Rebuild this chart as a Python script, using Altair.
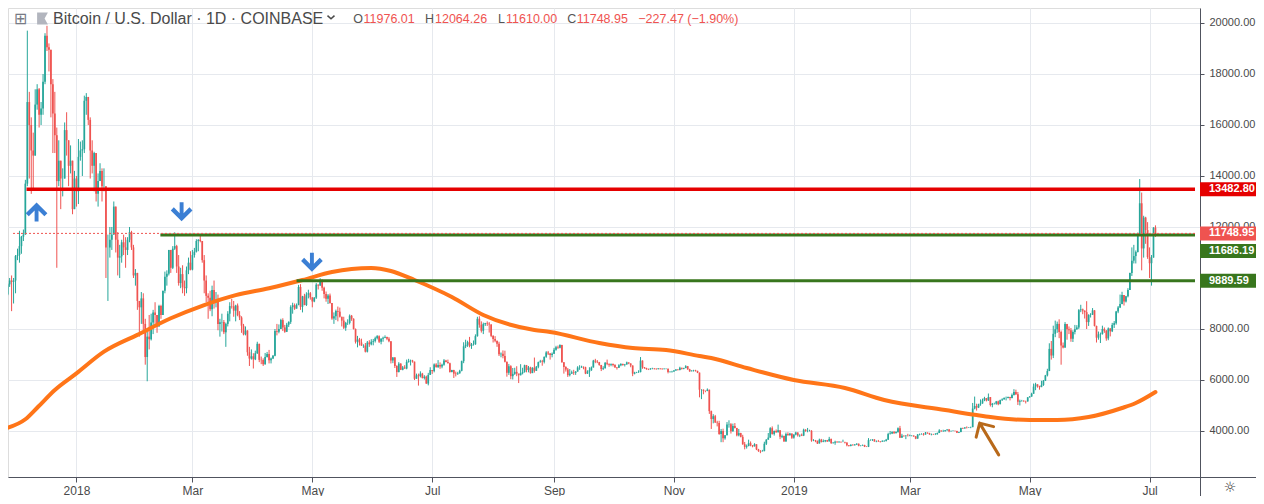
import json
import altair as alt
import pandas as pd

# ---------------- daily candles (Coinbase BTC/USD) ----------------
FIRST_OPEN = 9250

close_2017_11 = [9350, 9750, 9900, 9850, 9900]
high_2017_11 = [9500, 9800, 10000, 10100, 10000]
low_2017_11 = [9050, 9320, 9650, 8700, 9000]

close_2017_12 = [10860, 10900, 11250, 11620, 11700, 13700, 16900, 16000, 15000, 14800, 16800, 17400, 16400, 16650, 17700, 19500, 19050, 18950, 17600, 16450, 15600, 13800, 14600, 13900, 13900, 15800, 15400, 14400, 14600, 12700, 13900]
high_2017_12 = [10900, 11150, 11850, 11650, 11900, 13850, 19700, 17300, 16300, 15700, 17400, 17600, 17450, 16900, 18000, 19600, 19890, 19200, 18900, 17800, 17300, 15900, 15400, 14600, 14300, 16100, 16500, 15400, 15200, 14600, 14200]
low_2017_12 = [9400, 10700, 10600, 10950, 11450, 11700, 13600, 13900, 13300, 13500, 14800, 16600, 15900, 16000, 16400, 17600, 18900, 18100, 16300, 14900, 14900, 10400, 13600, 12700, 13200, 13900, 14800, 13600, 14100, 12500, 12700]

close_2018_01 = [13400, 14750, 15000, 15050, 16950, 17100, 16200, 15000, 14400, 14900, 13300, 13800, 14200, 13600, 13600, 11200, 11200, 11500, 11700, 12800, 11500, 10800, 10850, 11400, 11200, 11100, 11500, 11800, 11200, 10100, 10200]
high_2018_01 = [14000, 15450, 15350, 15400, 17150, 17250, 17100, 16300, 15400, 14950, 14900, 14100, 14500, 14300, 14300, 13600, 11700, 12000, 12000, 13000, 12800, 11800, 11300, 11500, 11700, 11600, 11600, 12000, 11850, 11300, 10350]
low_2018_01 = [12800, 12900, 14600, 14000, 14900, 16400, 16000, 13900, 14100, 13400, 13000, 12800, 13800, 13000, 13400, 10000, 9100, 10800, 11100, 11700, 11000, 10100, 10000, 10600, 10900, 10400, 10900, 11400, 11100, 10000, 9700]

close_2018_02 = [9100, 8850, 9200, 8200, 6900, 7700, 7600, 8250, 8650, 8550, 8100, 8900, 8550, 9500, 10050, 10170, 11100, 10400, 11150, 11250, 10450, 9800, 10150, 9650, 9600, 10300, 10600, 10330]
high_2018_02 = [10200, 9100, 9450, 9400, 8400, 7900, 8550, 8600, 8750, 9050, 8550, 8950, 8950, 9500, 10250, 10300, 11100, 11100, 11250, 11790, 11300, 10900, 10400, 10500, 9900, 10450, 10800, 11050]
low_2018_02 = [8750, 7700, 8200, 7900, 6600, 5950, 7200, 7550, 7800, 8200, 7850, 8100, 8400, 8550, 9400, 9700, 10100, 10200, 10350, 11100, 10200, 9700, 9600, 9400, 9300, 9400, 10150, 10300]

close_2018_03 = [10900, 11030, 11450, 11500, 11450, 10700, 9900, 9300, 9230, 8770, 9530, 9140, 9150, 8200, 8260, 8270, 7870, 8200, 8600, 8900, 8890, 8720, 8920, 8540, 8450, 8130, 7790, 7940, 7090, 6840, 6930]
high_2018_03 = [11100, 11180, 11520, 11520, 11700, 11450, 10900, 10100, 9400, 9500, 9700, 9900, 9450, 9350, 8400, 8600, 8350, 8250, 8700, 9050, 9180, 9100, 8950, 9000, 8700, 8500, 8200, 8100, 7950, 7300, 7200]
low_2018_03 = [10300, 10800, 11000, 11050, 11400, 10600, 9400, 9050, 8400, 8700, 8500, 8800, 8850, 7950, 7700, 7900, 7800, 7300, 8100, 8300, 8800, 8480, 8300, 8500, 8350, 7850, 7750, 7750, 6950, 6550, 6800]

close_2018_04 = [6810, 7050, 7420, 6790, 6780, 6620, 6900, 7020, 6770, 6840, 6950, 7920, 7890, 8000, 8350, 8060, 7890, 8170, 8280, 8860, 8930, 8800, 8940, 9650, 8870, 9280, 8940, 9350, 9400, 9240]
high_2018_04 = [7050, 7150, 7500, 7420, 6920, 6850, 7060, 7100, 7180, 6880, 6980, 8000, 8200, 8180, 8400, 8420, 8160, 8240, 8300, 8930, 9030, 9000, 9000, 9730, 9760, 9300, 9380, 9440, 9540, 9450]
low_2018_04 = [6450, 6780, 7020, 6700, 6620, 6550, 6600, 6880, 6650, 6650, 6820, 6930, 7750, 7830, 8000, 7920, 7850, 7880, 8080, 8200, 8600, 8750, 8800, 8930, 8750, 8650, 8930, 8900, 9200, 9150]

close_2018_05 = [9080, 9230, 9740, 9700, 9860, 9620, 9370, 9190, 9310, 9020, 8410, 8500, 8710, 8680, 8480, 8330, 8050, 8240, 8240, 8520, 8400, 8000, 7500, 7590, 7470, 7350, 7350, 7110, 7470, 7400, 7500]
high_2018_05 = [9250, 9250, 9800, 9750, 9990, 9950, 9660, 9470, 9370, 9390, 9020, 8650, 8760, 8880, 8840, 8480, 8480, 8280, 8380, 8570, 8550, 8420, 8020, 7730, 7650, 7620, 7400, 7450, 7530, 7560, 7600]
low_2018_05 = [8850, 9050, 9180, 9550, 9700, 9500, 9200, 9070, 8980, 8990, 8360, 8200, 8350, 8300, 8450, 8100, 8000, 7930, 8160, 8180, 8320, 7980, 7430, 7280, 7350, 7340, 7260, 7080, 7080, 7300, 7360]

close_2018_06 = [7530, 7640, 7720, 7500, 7620, 7660, 7690, 7620, 7520, 6760, 6880, 6550, 6310, 6640, 6400, 6490, 6450, 6710, 6740, 6760, 6720, 6050, 6180, 6150, 6250, 6080, 6130, 5860, 6200, 6390]
high_2018_06 = [7610, 7700, 7760, 7750, 7640, 7700, 7750, 7700, 7680, 7520, 6900, 6900, 6580, 6700, 6660, 6550, 6580, 6800, 6830, 6800, 6790, 6720, 6250, 6250, 6340, 6280, 6190, 6170, 6280, 6500]
low_2018_06 = [7360, 7470, 7590, 7450, 7400, 7500, 7640, 7560, 7480, 6650, 6660, 6470, 6120, 6300, 6390, 6380, 6440, 6420, 6680, 6570, 6680, 6000, 6050, 5780, 6100, 6060, 6020, 5850, 5790, 6200]

close_2018_07 = [6350, 6610, 6510, 6590, 6530, 6600, 6760, 6710, 6660, 6310, 6390, 6250, 6230, 6260, 6360, 6740, 7320, 7380, 7480, 7330, 7400, 7400, 7720, 8400, 8170, 7930, 8190, 8230, 8210, 8180, 7730]
high_2018_07 = [6390, 6650, 6660, 6780, 6690, 6640, 6820, 6790, 6800, 6680, 6400, 6400, 6330, 6320, 6400, 6760, 7480, 7580, 7540, 7690, 7450, 7550, 7790, 8480, 8500, 8300, 8250, 8240, 8300, 8270, 8180]
low_2018_07 = [6240, 6300, 6480, 6470, 6440, 6460, 6560, 6690, 6650, 6290, 6300, 6080, 6140, 6200, 6250, 6340, 6660, 7250, 7300, 7280, 7220, 7350, 7380, 7700, 8050, 7860, 7800, 8120, 8120, 7860, 7680]

close_2018_08 = [7610, 7540, 7420, 7010, 7030, 6940, 6720, 6280, 6540, 6150, 6240, 6320, 6250, 6190, 6270, 6310, 6580, 6390, 6490, 6270, 6480, 6360, 6520, 6700, 6730, 6710, 6910, 7080, 7040, 6980, 7030]
high_2018_08 = [7760, 7720, 7540, 7500, 7080, 7160, 7150, 6720, 6630, 6580, 6470, 6480, 6540, 6250, 6620, 6480, 6600, 6590, 6550, 6520, 6500, 6880, 6550, 6720, 6790, 6790, 6920, 7130, 7140, 7060, 7080]
low_2018_08 = [7470, 7480, 7300, 6940, 6890, 6850, 6690, 6130, 6200, 6030, 6020, 6200, 6150, 5880, 6180, 6220, 6290, 6300, 6300, 6250, 6270, 6290, 6360, 6460, 6680, 6560, 6650, 6870, 6980, 6800, 6890]

close_2018_09 = [7190, 7280, 7260, 7370, 6700, 6510, 6410, 6190, 6250, 6300, 6280, 6330, 6490, 6490, 6520, 6500, 6250, 6330, 6380, 6490, 6760, 6720, 6700, 6590, 6430, 6460, 6680, 6640, 6600, 6630]
high_2018_09 = [7260, 7340, 7350, 7400, 7380, 6700, 6540, 6470, 6430, 6370, 6400, 6350, 6540, 6580, 6560, 6530, 6520, 6380, 6500, 6530, 6790, 6830, 6780, 6710, 6590, 6540, 6700, 6800, 6640, 6650]
low_2018_09 = [7020, 7150, 7220, 7240, 6680, 6250, 6330, 6120, 6140, 6240, 6200, 6200, 6330, 6400, 6480, 6420, 6230, 6240, 6120, 6360, 6490, 6660, 6660, 6560, 6350, 6390, 6450, 6580, 6520, 6540]

close_2018_10 = [6590, 6500, 6480, 6580, 6630, 6590, 6610, 6690, 6650, 6570, 6250, 6290, 6300, 6310, 6760, 6500, 6470, 6430, 6420, 6440, 6450, 6440, 6430, 6450, 6440, 6430, 6440, 6440, 6310, 6320, 6330]
high_2018_10 = [6650, 6620, 6510, 6620, 6660, 6640, 6630, 6720, 6690, 6650, 6570, 6320, 6320, 6380, 6900, 6770, 6510, 6480, 6450, 6470, 6480, 6470, 6460, 6470, 6470, 6460, 6460, 6460, 6450, 6340, 6360]
low_2018_10 = [6530, 6470, 6410, 6470, 6540, 6560, 6530, 6600, 6620, 6500, 6150, 6220, 6270, 6280, 6300, 6440, 6440, 6400, 6390, 6400, 6420, 6410, 6400, 6410, 6410, 6400, 6410, 6420, 6260, 6290, 6290]

close_2018_11 = [6370, 6410, 6390, 6480, 6440, 6470, 6540, 6420, 6340, 6370, 6380, 6360, 6290, 5620, 5620, 5580, 5570, 5620, 4780, 4470, 4580, 4330, 4310, 3880, 4000, 3720, 3830, 4250, 4260, 3990]
high_2018_11 = [6390, 6430, 6420, 6520, 6480, 6480, 6580, 6550, 6440, 6380, 6400, 6400, 6360, 6290, 5640, 5630, 5580, 5670, 5620, 4800, 4660, 4630, 4400, 4400, 4080, 4090, 3840, 4350, 4420, 4310]
low_2018_11 = [6320, 6360, 6370, 6380, 6410, 6420, 6460, 6400, 6320, 6340, 6330, 6330, 6270, 5320, 5250, 5440, 5520, 5560, 4670, 4080, 4300, 4320, 4180, 3850, 3560, 3560, 3660, 3830, 4130, 3900]

close_2018_12 = [4200, 4120, 3830, 3920, 3770, 3480, 3380, 3410, 3520, 3440, 3400, 3480, 3280, 3220, 3200, 3220, 3500, 3660, 3740, 4110, 3880, 4000, 3950, 4030, 3770, 3800, 3590, 3880, 3830, 3900, 3740]
high_2018_12 = [4290, 4310, 4120, 4080, 3930, 3850, 3570, 3470, 3660, 3590, 3450, 3520, 3480, 3300, 3250, 3260, 3580, 3680, 3920, 4150, 4180, 4020, 4060, 4250, 4030, 3860, 3820, 3940, 3950, 3930, 3900]
low_2018_12 = [3970, 4100, 3790, 3790, 3750, 3460, 3280, 3310, 3400, 3400, 3360, 3390, 3250, 3180, 3130, 3200, 3200, 3450, 3660, 3730, 3860, 3820, 3930, 3940, 3680, 3720, 3580, 3580, 3820, 3820, 3690]

close_2019_01 = [3860, 3940, 3830, 3850, 3820, 4050, 4000, 4000, 4010, 3630, 3640, 3620, 3510, 3660, 3570, 3600, 3640, 3590, 3690, 3530, 3540, 3580, 3560, 3580, 3570, 3570, 3550, 3440, 3410, 3460, 3440]
high_2019_01 = [3870, 3970, 3950, 3860, 3900, 4090, 4070, 4120, 4050, 4030, 3680, 3650, 3620, 3700, 3690, 3670, 3650, 3650, 3770, 3700, 3570, 3620, 3600, 3600, 3580, 3660, 3580, 3550, 3450, 3480, 3480]
low_2019_01 = [3700, 3830, 3780, 3760, 3800, 3800, 3970, 3950, 3980, 3580, 3600, 3560, 3490, 3510, 3550, 3560, 3560, 3570, 3590, 3490, 3500, 3460, 3540, 3540, 3530, 3560, 3510, 3400, 3390, 3400, 3430]

close_2019_02 = [3470, 3500, 3420, 3430, 3450, 3390, 3380, 3640, 3650, 3670, 3590, 3600, 3590, 3570, 3590, 3610, 3660, 3880, 3900, 3960, 3910, 3960, 4110, 3740, 3810, 3800, 3810, 3800]
high_2019_02 = [3490, 3520, 3510, 3440, 3470, 3460, 3400, 3720, 3670, 3680, 3680, 3630, 3650, 3600, 3640, 3640, 3690, 3930, 4000, 3990, 4000, 3990, 4140, 4200, 3890, 3830, 3840, 3890]
low_2019_02 = [3430, 3450, 3400, 3400, 3420, 3370, 3370, 3370, 3620, 3610, 3580, 3560, 3570, 3550, 3570, 3590, 3590, 3650, 3860, 3880, 3890, 3910, 3930, 3730, 3740, 3770, 3680, 3790]

close_2019_03 = [3820, 3820, 3790, 3700, 3860, 3870, 3880, 3860, 3940, 3920, 3870, 3880, 3870, 3870, 3920, 4020, 3990, 3990, 4030, 4060, 3990, 4000, 4010, 4000, 3930, 3960, 4120, 4100, 4140, 4130, 4140]
high_2019_03 = [3860, 3840, 3830, 3800, 3880, 3900, 3910, 3920, 3960, 3940, 3930, 3900, 3890, 3920, 3940, 4070, 4020, 4050, 4040, 4070, 4080, 4020, 4020, 4010, 4010, 3970, 4130, 4130, 4150, 4180, 4150]
low_2019_03 = [3800, 3790, 3770, 3680, 3700, 3830, 3860, 3820, 3860, 3890, 3850, 3830, 3850, 3840, 3860, 3920, 3970, 3960, 3980, 4010, 3950, 3980, 3990, 3980, 3920, 3920, 3950, 4080, 4090, 4100, 4120]

close_2019_04 = [4150, 4880, 4980, 4920, 5050, 5080, 5200, 5290, 5200, 5330, 5020, 5070, 5070, 5160, 5050, 5210, 5240, 5290, 5290, 5330, 5290, 5410, 5530, 5440, 5150, 5180, 5180, 5170, 5160, 5320]
high_2019_04 = [4170, 5100, 5350, 5070, 5070, 5240, 5270, 5340, 5290, 5470, 5330, 5100, 5110, 5180, 5190, 5230, 5280, 5320, 5350, 5350, 5340, 5470, 5640, 5620, 5530, 5230, 5220, 5210, 5190, 5330]
low_2019_04 = [4110, 4150, 4850, 4800, 4900, 4990, 5070, 5170, 5160, 5180, 4960, 4930, 5040, 5030, 5010, 5050, 5180, 5240, 5200, 5280, 5200, 5280, 5390, 5410, 5020, 5000, 5150, 5140, 5080, 5150]

close_2019_05 = [5350, 5460, 5740, 5830, 5770, 5720, 5800, 5970, 6180, 6350, 7220, 6960, 7810, 7990, 8200, 7880, 7350, 7270, 8200, 7990, 7950, 7620, 7880, 7990, 8060, 8740, 8770, 8720, 8660, 8270, 8550]
high_2019_05 = [5370, 5500, 5860, 5890, 5830, 5770, 5970, 6000, 6200, 6440, 7440, 7530, 8130, 8330, 8290, 8380, 7940, 7470, 8270, 8200, 8100, 8040, 7950, 8160, 8150, 8780, 8950, 8800, 8730, 9090, 8580]
low_2019_05 = [5310, 5340, 5460, 5600, 5700, 5620, 5720, 5770, 5960, 6140, 6350, 6800, 6860, 7680, 7850, 7640, 6600, 7240, 7260, 7580, 7800, 7500, 7490, 7790, 7970, 8000, 8660, 8580, 8410, 8000, 8120]

close_2019_06 = [8560, 8730, 8120, 7660, 7790, 7800, 8000, 7930, 7630, 8020, 7910, 8160, 8230, 8690, 8840, 8980, 9330, 9080, 9280, 9530, 10200, 10680, 10860, 11020, 11750, 12930, 11160, 12370, 11880, 10820]
high_2019_06 = [8620, 8820, 8740, 8130, 7900, 7860, 8130, 8060, 7960, 8060, 8030, 8240, 8310, 8710, 8900, 9350, 9460, 9330, 9300, 9600, 10210, 11200, 11300, 11080, 11780, 13880, 13350, 12440, 12400, 12190]
low_2019_06 = [8450, 8550, 8100, 7470, 7580, 7450, 7780, 7850, 7540, 7560, 7710, 7880, 8040, 8170, 8620, 8820, 8970, 8920, 9040, 9240, 9530, 10080, 10570, 10570, 11000, 11700, 10300, 10800, 11340, 10750]

close_2019_07 = [10580, 10800, 11976.01, 11748.95]
high_2019_07 = [11200, 10900, 11990, 12064.26]
low_2019_07 = [10000, 9700, 10800, 11610.00]

MONTHS = [
    ("2017-11-26", close_2017_11, high_2017_11, low_2017_11),
    ("2017-12-01", close_2017_12, high_2017_12, low_2017_12),
    ("2018-01-01", close_2018_01, high_2018_01, low_2018_01),
    ("2018-02-01", close_2018_02, high_2018_02, low_2018_02),
    ("2018-03-01", close_2018_03, high_2018_03, low_2018_03),
    ("2018-04-01", close_2018_04, high_2018_04, low_2018_04),
    ("2018-05-01", close_2018_05, high_2018_05, low_2018_05),
    ("2018-06-01", close_2018_06, high_2018_06, low_2018_06),
    ("2018-07-01", close_2018_07, high_2018_07, low_2018_07),
    ("2018-08-01", close_2018_08, high_2018_08, low_2018_08),
    ("2018-09-01", close_2018_09, high_2018_09, low_2018_09),
    ("2018-10-01", close_2018_10, high_2018_10, low_2018_10),
    ("2018-11-01", close_2018_11, high_2018_11, low_2018_11),
    ("2018-12-01", close_2018_12, high_2018_12, low_2018_12),
    ("2019-01-01", close_2019_01, high_2019_01, low_2019_01),
    ("2019-02-01", close_2019_02, high_2019_02, low_2019_02),
    ("2019-03-01", close_2019_03, high_2019_03, low_2019_03),
    ("2019-04-01", close_2019_04, high_2019_04, low_2019_04),
    ("2019-05-01", close_2019_05, high_2019_05, low_2019_05),
    ("2019-06-01", close_2019_06, high_2019_06, low_2019_06),
    ("2019-07-01", close_2019_07, high_2019_07, low_2019_07),
]

# 200-day moving average (day index from 2018-01-01, price)
ma_day = [-36, -26, -19.5, -11, 0, 14, 31, 48, 65, 81, 98, 115, 130, 140, 150, 160, 172, 191, 207, 233,
          241, 266, 283, 300, 317, 323, 341, 365, 391, 411, 442, 458, 465, 485, 499, 515, 532, 539, 549]
ma_val = [4100, 4460, 4950, 5610, 6260, 7110, 7770, 8420, 8940, 9330, 9600, 9920, 10235, 10353, 10392, 10275,
          9922, 9255, 8549, 7961, 7882, 7451, 7255, 7176, 6941, 6863, 6471, 6000, 5686, 5216, 4824, 4627,
          4549, 4431, 4431, 4549, 4902, 5098, 5529]

# horizontal levels drawn on the chart
level_price = [13482.80, 11686.19, 9889.59]
level_start = [-25.4, 42.7, 112.0]
level_color = ["#e50000", "#38761d", "#38761d"]
level_width = [3.5, 3, 3]
CURRENT = 11748.95

# price tags on the right scale
tag_price = [13482.80, 11748.95, 11686.19, 9889.59]
tag_color = ["#e50000", "#ef5350", "#38761d", "#38761d"]
tag_shift = [0, 0, 1, 0]

# arrows (day index, price)
up_arrow_day, up_arrow_price = [-20.3], [12588]
down_arrow_day, down_arrow_price = [53.5, 119.8], [12600, 10620]
brown_arrow_day, brown_arrow_price = [464.4], [3686]

tick_days = [0, 59, 120, 181, 243, 304, 365, 424, 485, 546]
tick_labels = ["2018", "Mar", "May", "Jul", "Sep", "Nov", "2019", "Mar", "May", "Jul"]
price_ticks = [4000, 6000, 8000, 12000, 14000, 16000, 18000, 20000]   # 10000 sits under its tag

UP, DOWN = "#26a69a", "#ef5350"
FONT = "Liberation Sans"
AXIS_COL = "#50535e"

# ---------------- build tables ----------------
ref = pd.Timestamp("2018-01-01")
rows = []
prev = FIRST_OPEN
for start, cs, hs, ls in MONTHS:
    s = pd.Timestamp(start)
    for i, (c, h, l) in enumerate(zip(cs, hs, ls)):
        day = (s + pd.Timedelta(days=i) - ref).days
        o = prev
        rows.append(dict(d=day, open=o, close=c, high=max(h, o, c), low=min(l, o, c),
                         col=UP if c >= o else DOWN))
        prev = c
candles = pd.DataFrame(rows)

W, H = 1192, 469
PAD_R, PAD_B = 56, 19
XMIN, XMAX = -32.29, 569.12
xscale = alt.Scale(domain=[XMIN, XMAX], nice=False, zero=False)
yscale = alt.Scale(domain=[2196, 20588], nice=False, zero=False)

label_expr = "%s[indexof(%s, datum.value)]" % (json.dumps(tick_labels), json.dumps(tick_days))
xaxis = alt.Axis(values=tick_days, labelExpr=label_expr, grid=True, gridColor="#e6e9ee",
                 domainColor=AXIS_COL, tickColor=AXIS_COL, tickSize=5, labelFontSize=12,
                 labelColor="#4a4a4a", labelFont=FONT, labelPadding=3, title=None, labelFlush=False)
yaxis = alt.Axis(orient="right", values=price_ticks, format=".2f", grid=True, gridColor="#e6e9ee",
                 domainColor=AXIS_COL, tickColor=AXIS_COL, tickSize=4, labelFontSize=11,
                 labelColor="#4a4a4a", labelFont=FONT, labelPadding=5, title=None)


def X(field):
    return alt.X(field, type="quantitative", scale=xscale, axis=xaxis)


def Y(field):
    return alt.Y(field, type="quantitative", scale=yscale, axis=yaxis)


base = alt.Chart(candles)
wicks = base.mark_rule(strokeWidth=1, clip=True).encode(
    x=X("d"), y=Y("low"), y2="high", color=alt.Color("col:N", scale=None))
bodies = base.mark_bar(size=1.7, clip=True).encode(
    x=X("d"), y=Y("open"), y2="close", color=alt.Color("col:N", scale=None))

ma = alt.Chart(pd.DataFrame({"d": ma_day, "ma": ma_val})).mark_line(
    color="#ff7518", strokeWidth=4, interpolate="monotone", clip=True, strokeCap="round"
).encode(x=X("d"), y=Y("ma"))

levels_df = pd.DataFrame({"price": level_price, "d0": level_start, "d1": [XMAX] * len(level_price),
                          "col": level_color, "w": level_width})
levels = alt.Chart(levels_df).mark_rule(clip=True).encode(
    x=X("d0"), x2="d1", y=Y("price"), color=alt.Color("col:N", scale=None),
    strokeWidth=alt.StrokeWidth("w:Q", scale=None))

cur = alt.Chart(pd.DataFrame({"price": [CURRENT], "d0": [XMIN], "d1": [XMAX]})).mark_rule(
    color="#ef5350", strokeWidth=1, strokeDash=[2, 2], clip=True
).encode(x=X("d0"), x2="d1", y=Y("price"))

UP_PATH = "M0,-0.88 L1,0.12 L0.72,0.4 L0.18,-0.14 L0.18,0.88 L-0.18,0.88 L-0.18,-0.14 L-0.72,0.4 L-1,0.12 Z"
DOWN_PATH = "M0,0.88 L1,-0.12 L0.72,-0.4 L0.18,0.14 L0.18,-0.88 L-0.18,-0.88 L-0.18,0.14 L-0.72,-0.4 L-1,-0.12 Z"
LINE_ARROW = "M0,1 L0,-1 M-0.55,-0.45 L0,-1 L0.55,-0.45"

arrow_style = dict(filled=True, size=470, color="#3b7fd4", opacity=1, strokeWidth=1.5, strokeJoin="round")
up_arrows = alt.Chart(pd.DataFrame({"d": up_arrow_day, "p": up_arrow_price})).mark_point(
    shape=UP_PATH, **arrow_style).encode(x=X("d"), y=Y("p"))
down_arrows = alt.Chart(pd.DataFrame({"d": down_arrow_day, "p": down_arrow_price})).mark_point(
    shape=DOWN_PATH, **arrow_style).encode(x=X("d"), y=Y("p"))
brown_arrow = alt.Chart(pd.DataFrame({"d": brown_arrow_day, "p": brown_arrow_price})).mark_point(
    shape=LINE_ARROW, filled=False, size=1369, angle=329, color="#b8691a", opacity=1,
    strokeWidth=3, strokeCap="round", strokeJoin="round"
).encode(x=X("d"), y=Y("p"))

tags_df = pd.DataFrame({"price": tag_price, "col": tag_color, "shift": tag_shift,
                        "txt": ["%.2f" % p for p in tag_price]})
BOX = "M-1,-0.25 L1,-0.25 L1,0.25 L-1,0.25 Z"
tag_layers = []
for shift, off in [(0, 0), (1, 16)]:
    sub = tags_df[tags_df["shift"] == shift]
    tb = alt.Chart(sub)
    tag_layers.append(tb.mark_point(shape=BOX, filled=True, size=3136, opacity=1, yOffset=off).encode(
        x=alt.value(W + 28), y=Y("price"), color=alt.Color("col:N", scale=None)))
    tag_layers.append(tb.mark_text(align="left", baseline="middle", fontSize=11, fontWeight="bold",
                                   font=FONT, color="white", dy=off).encode(
        x=alt.value(W + 9), y=Y("price"), text="txt:N"))

# frame lines continuing the axes into the corner
one = pd.DataFrame({"a": [0]})
frame_h = alt.Chart(one).mark_rule(color=AXIS_COL, strokeWidth=1).encode(
    x=alt.value(W), x2=alt.value(W + PAD_R), y=alt.value(H + 0.5))
frame_v = alt.Chart(one).mark_rule(color=AXIS_COL, strokeWidth=1).encode(
    x=alt.value(W + 0.5), y=alt.value(H), y2=alt.value(H + PAD_B))

# ---------------- header texts ----------------
title_parts = pd.DataFrame({
    "t": ["O", "11976.01", "H", "12064.26", "L", "11610.00", "C", "11748.95", "\u2212227.47 (\u22121.90%)"],
    "px": [345.3, 355.5, 417, 427, 490, 498, 559.3, 568.7, 630.3],
    "col": ["#555555", "#ef5350", "#555555", "#ef5350", "#555555", "#ef5350", "#555555", "#ef5350", "#ef5350"],
})
ohlc = alt.Chart(title_parts).mark_text(align="left", baseline="middle", fontSize=12.5, font=FONT).encode(
    x=alt.X("px:Q", scale=None), y=alt.value(11), text="t:N", color=alt.Color("col:N", scale=None))

main_title = alt.Chart(one).mark_text(align="left", baseline="middle", fontSize=16, font=FONT,
                                      color="#4a4a4a",
                                      text="Bitcoin / U.S. Dollar \u00b7 1D \u00b7 COINBASE").encode(
    x=alt.value(45), y=alt.value(11))
plus_icon = alt.Chart(one).mark_text(align="center", baseline="middle", fontSize=16, font="DejaVu Sans",
                                     color="#787b86", text="\u229e").encode(x=alt.value(12.5), y=alt.value(11))
flag_icon = alt.Chart(one).mark_point(shape="M-0.9,-1 L0.9,-1 L0.35,0 L0.9,1 L-0.9,1 Z", filled=True,
                                      size=144, color="#b2b5be", opacity=1).encode(
    x=alt.value(34.5), y=alt.value(10.5))
chevron = alt.Chart(one).mark_point(shape="M-1,-0.4 L0,0.5 L1,-0.4", filled=False, size=49,
                                    color="#4a4a4a", opacity=1, strokeWidth=1.5).encode(
    x=alt.value(323), y=alt.value(9))
gear = alt.Chart(one).mark_text(align="center", baseline="middle", fontSize=14, font="DejaVu Sans",
                                color="#333333", text="\u263c").encode(x=alt.value(1222), y=alt.value(480))

chart = alt.layer(
    wicks, bodies, ma, levels, cur, up_arrows, down_arrows, brown_arrow, *tag_layers,
    frame_h, frame_v, ohlc, main_title, plus_icon, flag_icon, chevron, gear
).properties(
    width=W, height=H,
    padding={"left": 0, "top": 0, "right": PAD_R, "bottom": PAD_B},
    autosize=alt.AutoSizeParams(type="none"),
).configure_view(stroke=None).configure(background="white")

chart.save("out.html", embed_options={"renderer": "svg", "actions": False})
